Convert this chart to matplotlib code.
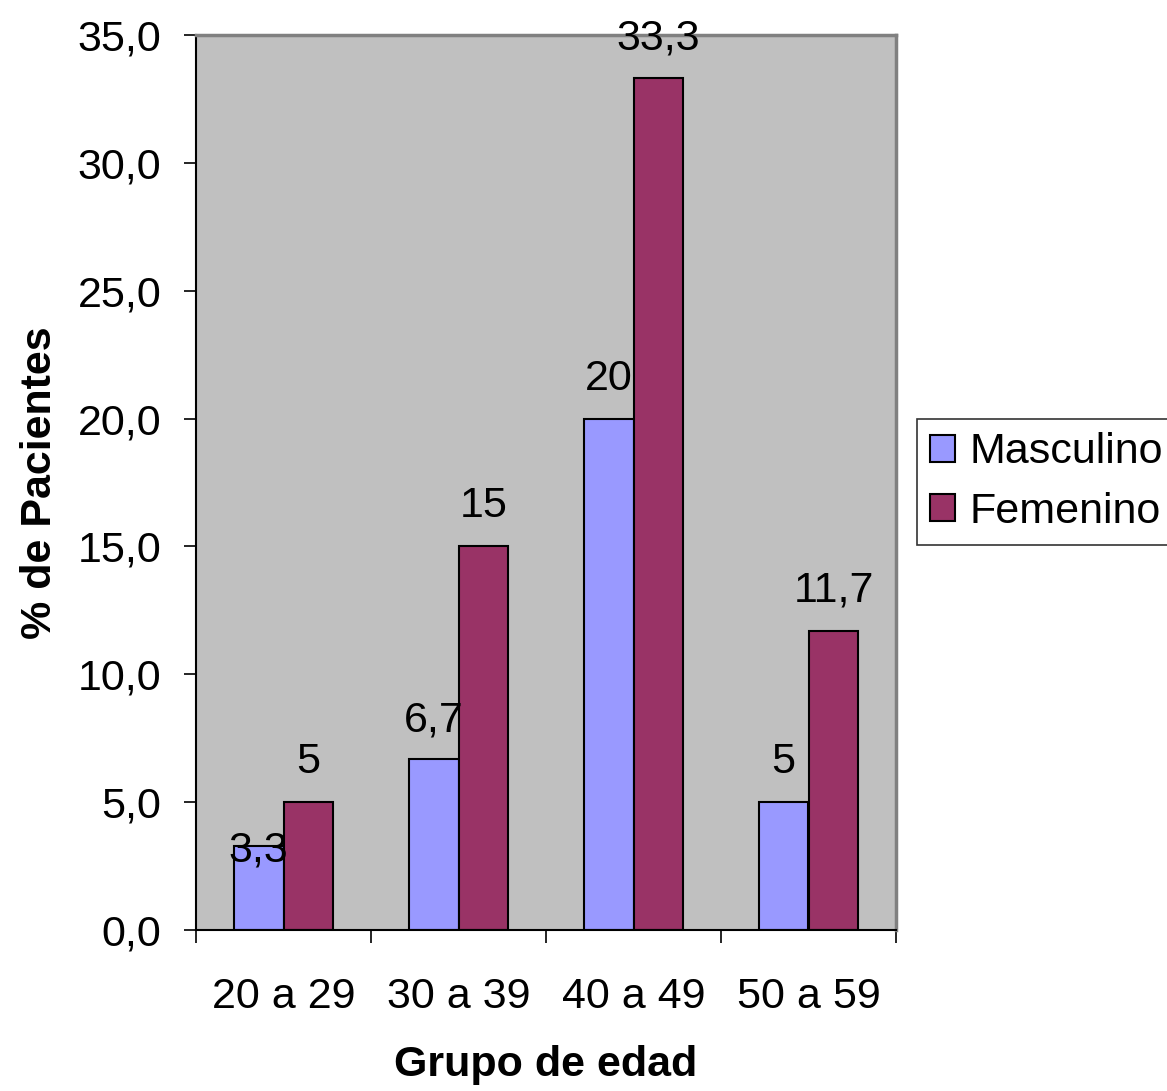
import matplotlib
matplotlib.use("Agg")
import matplotlib.pyplot as plt
import numpy as np

plt.rcParams['font.family'] = ['Liberation Sans', 'DejaVu Sans']

grupos = ["20 a 29", "30 a 39", "40 a 49", "50 a 59"]
masculino = [3.3, 6.7, 20, 5]
femenino = [5, 15, 33.3, 11.7]
etiquetas_m = ["3,3", "6,7", "20", "5"]
etiquetas_f = ["5", "15", "33,3", "11,7"]
y_ticks = [0, 5, 10, 15, 20, 25, 30, 35]

fig = plt.figure(figsize=(11.67, 10.91), dpi=100)
ax = fig.add_axes([196 / 1167, 1 - 930 / 1091, 700 / 1167, 895 / 1091])
ax.set_facecolor("#C0C0C0")

x = np.arange(len(grupos))
w = 0.2857
bm = ax.bar(x - w / 2, masculino, w, color="#9999FF", edgecolor="black", linewidth=1.5, label="Masculino", zorder=2)
bf = ax.bar(x + w / 2, femenino, w, color="#993366", edgecolor="black", linewidth=1.5, label="Femenino", zorder=2)

fs = 31
# value labels above each bar; the first male label sits lower
off_m = [-5, 38, 40, 40]
for xi, v, t, o in zip(x, masculino, etiquetas_m, off_m):
    ax.annotate(t, (xi - w / 2, v), xytext=(0, o * 0.72), textcoords="offset points",
                ha="center", va="center", fontsize=fs, zorder=3)
for xi, v, t in zip(x, femenino, etiquetas_f):
    ax.annotate(t, (xi + w / 2, v), xytext=(0, 40 * 0.72), textcoords="offset points",
                ha="center", va="center", fontsize=fs, zorder=3)

ax.set_xlim(-0.5, 3.5)
ax.set_ylim(0, 35)
ax.set_yticks(y_ticks)
ax.set_yticklabels([f"{v:.1f}".replace(".", ",") for v in y_ticks], fontsize=fs)
ax.tick_params(axis="y", direction="out", length=9, width=1.2, pad=16)

ax.set_xticks(x)
ax.set_xticklabels(grupos, fontsize=fs)
ax.set_xticks(np.arange(-0.5, 4.0, 1.0), minor=True)
ax.tick_params(axis="x", which="major", length=0, pad=34)
ax.tick_params(axis="x", which="minor", direction="out", length=9, width=1.2)

for s in ["left", "bottom"]:
    ax.spines[s].set_color("black")
    ax.spines[s].set_linewidth(1.5)
for s in ["top", "right"]:
    ax.spines[s].set_color("#808080")
    ax.spines[s].set_linewidth(2.5)

ax.set_ylabel("% de Pacientes", fontsize=fs, fontweight="bold")
ax.yaxis.set_label_coords(-0.194, 0.5)
ax.set_xlabel("Grupo de edad", fontsize=fs, fontweight="bold")
ax.xaxis.set_label_coords(0.5, -0.128)

leg = fig.legend(handles=[bm, bf], loc="center left", bbox_to_anchor=(917 / 1167, 1 - 482 / 1091),
                 fontsize=fs, frameon=True, fancybox=False, shadow=False,
                 handlelength=0.58, handleheight=0.58, handletextpad=0.35,
                 borderpad=0.3, labelspacing=0.45, borderaxespad=0)
leg.get_frame().set_edgecolor("black")
leg.get_frame().set_linewidth(1.2)

fig.savefig("out.png", dpi=100)
